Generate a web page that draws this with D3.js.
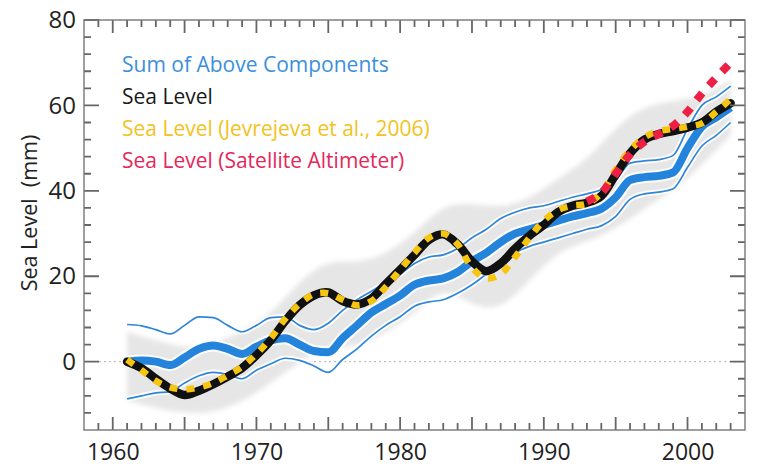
<!DOCTYPE html>
<html>
<head>
<meta charset="utf-8">
<script src="https://cdn.jsdelivr.net/npm/d3@7"></script>
<style>
  body { margin: 0; background: #fff; }
  svg { display: block; }
  text { font-family: "Open Sans", "Noto Sans", sans-serif; }
</style>
</head>
<body>
<svg id="chart" width="761" height="468"></svg>
<script>
// Annual sea level series, mm relative to 1961
const years = d3.range(1961, 2004);
const seaLevel = [0, -1.5, -4, -6.3, -7.8, -6.8, -5.3, -3.5, -1.5, 1.5,
  5, 9.5, 13.2, 15.5, 16.2, 14.2, 13.4, 14.8, 18.2, 21.5,
  25, 28.5, 29.8, 27.5, 23.5, 21.2, 23, 26.5, 29.5, 32,
  35, 36.5, 37.2, 38.8, 43.8, 48.8, 52, 53.3, 54, 54.8,
  56, 58.5, 60.5];
const jevrejeva = [0.5, -2, -4.5, -6, -6.5, -6, -5, -3.2, -1.2, 1.8,
  5.5, 10, 13.5, 15.8, 16, 14.5, 13.2, 14.2, 17.5, 21.5,
  25.5, 29, 30, 27.5, 22, 19.5, 20.5, 24.5, 29, 33,
  35.5, 36.5, 37, 39.5, 45, 49.5, 52.5, 54, 54.5, 55,
  55.8, 58.5, 61.5];
const satYears = d3.range(1993, 2004);
const satellite = [37.5, 39.5, 44, 48.5, 51.5, 53.3, 55.2, 58.5, 62.8, 66.5, 70];
const sumComponents = [0, 0.3, 0, -0.8, 1, 3, 3.8, 3, 1.8, 3.5,
  5, 5.5, 4, 2.5, 2.2, 5.5, 8.5, 11.5, 13.5, 15.5,
  18, 19, 19.5, 21, 23.5, 25.5, 28, 30, 31, 32,
  33, 34, 34.8, 35.8, 38.5, 42.5, 43.2, 43.5, 44.3, 50,
  55, 57.2, 59.5];
const sumUpper = [8.7, 8.4, 7.5, 6.5, 8.5, 10.5, 10.3, 8.5, 7, 8.5,
  10.3, 10.5, 8.5, 7.5, 9, 12, 14.5, 16.5, 18.5, 20.5,
  23, 24.5, 25, 26.5, 29, 31, 33.5, 35, 36, 36.5,
  37.5, 38.5, 39.3, 40.3, 42.5, 46.5, 47, 47.3, 48.3, 54.5,
  60, 62, 64.5];
const sumLower = [-8.7, -8, -7.3, -7, -5, -3.3, -2.5, -3, -4, -2,
  -0.5, 0.8, 0.3, -1, -2.5, 0.5, 3, 6, 8.5, 10.5,
  13, 14, 14.5, 16, 18, 20.5, 23, 25.5, 27, 28,
  29, 30, 31, 31.8, 34, 38, 39.3, 39.7, 40.5, 45.5,
  50.5, 53, 56];
// Uncertainty envelope of the sea level reconstruction
const bandYears = [1961, 1963, 1965, 1967, 1969, 1971, 1973, 1975, 1977, 1979, 1981,
  1983, 1985, 1987, 1989, 1991, 1993, 1995, 1997, 1999, 2001, 2003];
const bandUpper = [7, 5, 3, 4, 7, 11, 19, 24, 23, 25, 30, 37, 37, 36, 38, 43, 47, 55, 60, 61, 62, 66];
const bandLower = [-9, -11, -12, -12, -9.5, -5, 0, 4, 3, 7, 11, 18, 13, 12, 19, 26, 28, 31, 36, 40, 46, 53];

const xTickLabels = [1960, 1970, 1980, 1990, 2000];
const yTickLabels = [0, 20, 40, 60, 80];
const legendLabels = [
  "Sum of Above Components",
  "Sea Level",
  "Sea Level (Jevrejeva et al., 2006)",
  "Sea Level (Satellite Altimeter)"
];
const legendColors = ["#3b8fdc", "#1a1a1a", "#f3c21c", "#e4285a"];

const svg = d3.select("#chart");
const pLeft = 84, pRight = 745, pTop = 20, pBottom = 430;

const x = d3.scaleLinear().domain([1958, 2004]).range([pLeft, pRight]);
const y = d3.scaleLinear().domain([-16, 80]).range([pBottom, pTop]);

const defs = svg.append("defs");
defs.append("clipPath").attr("id", "plot")
  .append("rect").attr("x", pLeft).attr("y", pTop)
  .attr("width", pRight - pLeft).attr("height", pBottom - pTop);
defs.append("filter").attr("id", "soft")
  .attr("x", "-10%").attr("y", "-10%").attr("width", "120%").attr("height", "120%")
  .append("feGaussianBlur").attr("stdDeviation", 2.5);

const plot = svg.append("g").attr("clip-path", "url(#plot)");

// zero reference
plot.append("line")
  .attr("x1", pLeft).attr("x2", pRight)
  .attr("y1", y(0)).attr("y2", y(0))
  .attr("stroke", "#b0b0b0").attr("stroke-width", 1)
  .attr("stroke-dasharray", "2,3");

// grey envelope
const band = d3.area()
  .x((d, i) => x(bandYears[i]))
  .y0((d, i) => y(bandLower[i]))
  .y1((d, i) => y(bandUpper[i]))
  .curve(d3.curveBasis);
plot.append("path")
  .datum(bandYears)
  .attr("d", band)
  .attr("fill", "#e6e6e6")
  .attr("filter", "url(#soft)");

const lineOf = (xs, vs, curve) => d3.line()
  .x((d, i) => x(xs[i]))
  .y((d, i) => y(vs[i]))
  .curve(curve)(vs);

const smooth = d3.curveCatmullRom.alpha(0.5);
const mono = d3.curveMonotoneX;

// white casing beneath the blue lines
[[sumUpper, 5.5], [sumLower, 5.5], [sumComponents, 12]].forEach(([vs, w]) => {
  plot.append("path").attr("d", lineOf(years, vs, mono))
    .attr("fill", "none").attr("stroke", "#fff").attr("stroke-opacity", 0.9)
    .attr("stroke-width", w).attr("stroke-linejoin", "round");
});
[sumUpper, sumLower].forEach(vs => {
  plot.append("path").attr("d", lineOf(years, vs, mono))
    .attr("fill", "none").attr("stroke", "#2f86d6")
    .attr("stroke-width", 1.7).attr("stroke-linejoin", "round");
});
plot.append("path").attr("d", lineOf(years, sumComponents, mono))
  .attr("fill", "none").attr("stroke", "#2484dc")
  .attr("stroke-width", 8).attr("stroke-linejoin", "round");

// sea level
plot.append("path").attr("d", lineOf(years, seaLevel, smooth))
  .attr("fill", "none").attr("stroke", "#111")
  .attr("stroke-width", 8.5).attr("stroke-linecap", "round").attr("stroke-linejoin", "round");

plot.append("path").attr("d", lineOf(years, jevrejeva, smooth))
  .attr("fill", "none").attr("stroke", "#f6c50f")
  .attr("stroke-width", 6.5).attr("stroke-dasharray", "8,9");

plot.append("path").attr("d", lineOf(satYears, satellite, smooth))
  .attr("fill", "none").attr("stroke", "#ee1f45")
  .attr("stroke-width", 8).attr("stroke-dasharray", "9,10");

// inward ticks on all four sides of the frame
const yearTicks = d3.range(1959, 2004);
const mmTicks = d3.range(-12, 81, 4);
const xLen = d => (d % 5 === 0 ? 13 : 7);
const yLen = d => (d % 20 === 0 ? 15 : 7);

const tickPath = d3.path();
yearTicks.forEach(d => {
  tickPath.moveTo(x(d), pBottom); tickPath.lineTo(x(d), pBottom - xLen(d));
  tickPath.moveTo(x(d), pTop); tickPath.lineTo(x(d), pTop + xLen(d));
});
mmTicks.forEach(d => {
  tickPath.moveTo(pLeft, y(d)); tickPath.lineTo(pLeft + yLen(d), y(d));
  tickPath.moveTo(pRight, y(d)); tickPath.lineTo(pRight - yLen(d), y(d));
});
svg.append("path")
  .attr("d", tickPath.toString())
  .attr("fill", "none")
  .attr("stroke", "#666")
  .attr("stroke-width", 1.8);

// frame
svg.append("rect")
  .attr("x", pLeft).attr("y", pTop)
  .attr("width", pRight - pLeft).attr("height", pBottom - pTop)
  .attr("fill", "none").attr("stroke", "#777").attr("stroke-width", 1.4);

// tick labels
const xLab = svg.append("g").attr("transform", `translate(0,${pBottom})`)
  .call(d3.axisBottom(x).tickValues(xTickLabels).tickSize(0).tickPadding(14).tickFormat(d3.format("d")));
xLab.select(".domain").remove();
xLab.selectAll("text").attr("font-size", 23).attr("fill", "#222")
  .style("font-family", '"Open Sans", sans-serif');

const yLab = svg.append("g").attr("transform", `translate(${pLeft},0)`)
  .call(d3.axisLeft(y).tickValues(yTickLabels).tickSize(0).tickPadding(8));
yLab.select(".domain").remove();
yLab.selectAll("text").attr("font-size", 24).attr("fill", "#222")
  .style("font-family", '"Open Sans", sans-serif');

svg.append("text")
  .attr("transform", `translate(37,213) rotate(-90)`)
  .attr("text-anchor", "middle")
  .attr("font-size", 21.5).attr("fill", "#222")
  .style("white-space", "pre")
  .text("Sea Level  (mm)");

// legend
svg.append("g").selectAll("text").data(legendLabels).join("text")
  .attr("x", 122)
  .attr("y", (d, i) => 71.5 + i * 32.3)
  .attr("font-size", 21)
  .attr("fill", (d, i) => legendColors[i])
  .text(d => d);
</script>
</body>
</html>
